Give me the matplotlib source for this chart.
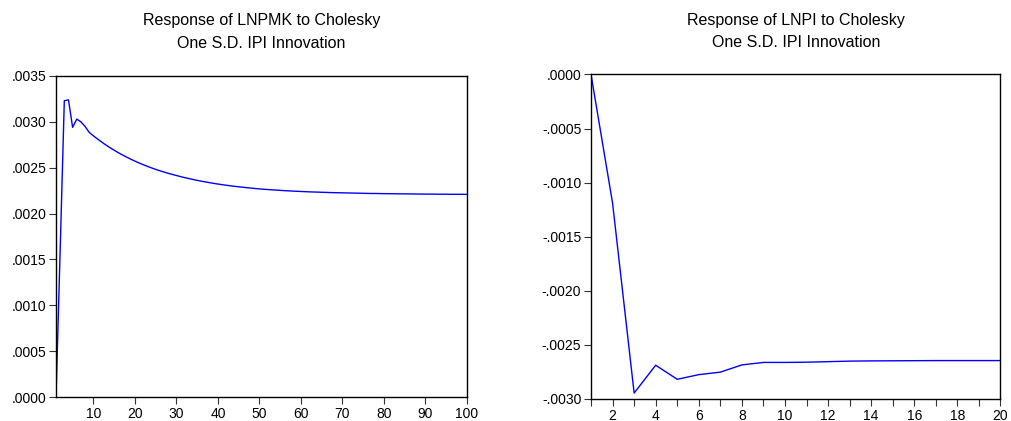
import matplotlib
matplotlib.use("Agg")
import matplotlib.pyplot as plt
from matplotlib.ticker import FuncFormatter

plt.rcParams['font.family'] = ['Liberation Sans', 'DejaVu Sans']

# Left panel: Response of LNPMK (periods 1..100)
lnpmk_periods = list(range(1, 101))
lnpmk_values = [
    0.0, 0.00160, 0.00323, 0.00324, 0.00294, 0.00303, 0.00300, 0.00295, 0.002885, 0.002848,
    0.002813, 0.002780, 0.002748, 0.002719, 0.002691, 0.002664, 0.002639, 0.002616, 0.002593, 0.002572,
    0.002552, 0.002533, 0.002515, 0.002498, 0.002482, 0.002467, 0.002453, 0.002439, 0.002427, 0.002415,
    0.002403, 0.002392, 0.002382, 0.002372, 0.002362, 0.002353, 0.002345, 0.002337, 0.002329, 0.002322,
    0.002315, 0.002309, 0.002303, 0.002297, 0.002292, 0.002287, 0.002282, 0.002278, 0.002273, 0.002269,
    0.002265, 0.002262, 0.002259, 0.002256, 0.002253, 0.002250, 0.002248, 0.002245, 0.002243, 0.002241,
    0.002239, 0.002237, 0.002235, 0.002234, 0.002232, 0.002231, 0.002229, 0.002228, 0.002227, 0.002226,
    0.002225, 0.002224, 0.002223, 0.002222, 0.002221, 0.002220, 0.002219, 0.002219, 0.002218, 0.002217,
    0.002217, 0.002216, 0.002216, 0.002215, 0.002215, 0.002214, 0.002214, 0.002213, 0.002213, 0.002212,
    0.002212, 0.002212, 0.002211, 0.002211, 0.002211, 0.002210, 0.002210, 0.002210, 0.002210, 0.002209,
]

# Right panel: Response of LNPI (periods 1..20)
lnpi_periods = list(range(1, 21))
lnpi_values = [
    0.0, -0.00119, -0.002945, -0.002688, -0.002818, -0.002775, -0.002752, -0.002685, -0.002662, -0.002662,
    -0.002660, -0.002655, -0.002650, -0.002648, -0.002647, -0.002646, -0.002645, -0.002645, -0.002645, -0.002645,
]

left_title = "Response of LNPMK to Cholesky\nOne S.D. IPI Innovation"
right_title = "Response of LNPI to Cholesky\nOne S.D. IPI Innovation"
left_yticks = [0.0, 0.0005, 0.0010, 0.0015, 0.0020, 0.0025, 0.0030, 0.0035]
right_yticks = [0.0, -0.0005, -0.0010, -0.0015, -0.0020, -0.0025, -0.0030]
left_xticks = [10, 20, 30, 40, 50, 60, 70, 80, 90, 100]
right_xticks = list(range(1, 21))
right_xlabels = [str(t) if t % 2 == 0 else "" for t in right_xticks]


def fmt(v, pos=None):
    s = f"{v:.4f}"
    if s.startswith("-0.0000"):
        s = "0.0000"
    s = s.replace("0.", ".", 1)
    return s


fig = plt.figure(figsize=(10.11, 4.21), dpi=100)
ax1 = fig.add_axes([0.0554, 0.057, 0.4065, 0.7625])
ax2 = fig.add_axes([0.5846, 0.0523, 0.405, 0.7708])

LINE_COLOR = "#0000ff"

for ax in (ax1, ax2):
    for sp in ax.spines.values():
        sp.set_color("black")
        sp.set_linewidth(1.0)
    ax.tick_params(direction="out", length=5, width=0.8, color="#333333",
                   labelsize=10, pad=2)
    ax.yaxis.set_major_formatter(FuncFormatter(fmt))

ax1.plot(lnpmk_periods, lnpmk_values, color=LINE_COLOR, lw=1.0)
ax1.set_xlim(1, 100)
ax1.set_ylim(0, 0.0035)
ax1.set_yticks(left_yticks)
ax1.set_xticks(left_xticks)
ax1.set_title(left_title, fontsize=11.5, pad=20.5, linespacing=1.6)

ax2.plot(lnpi_periods, lnpi_values, color=LINE_COLOR, lw=1.0)
ax2.set_xlim(1, 20)
ax2.set_ylim(-0.0030, 0.0)
ax2.set_yticks(right_yticks)
ax2.set_xticks(right_xticks)
ax2.set_xticklabels(right_xlabels)
ax2.set_title(right_title, fontsize=11.5, pad=19.5, linespacing=1.6)

fig.savefig("out.png", dpi=100)
